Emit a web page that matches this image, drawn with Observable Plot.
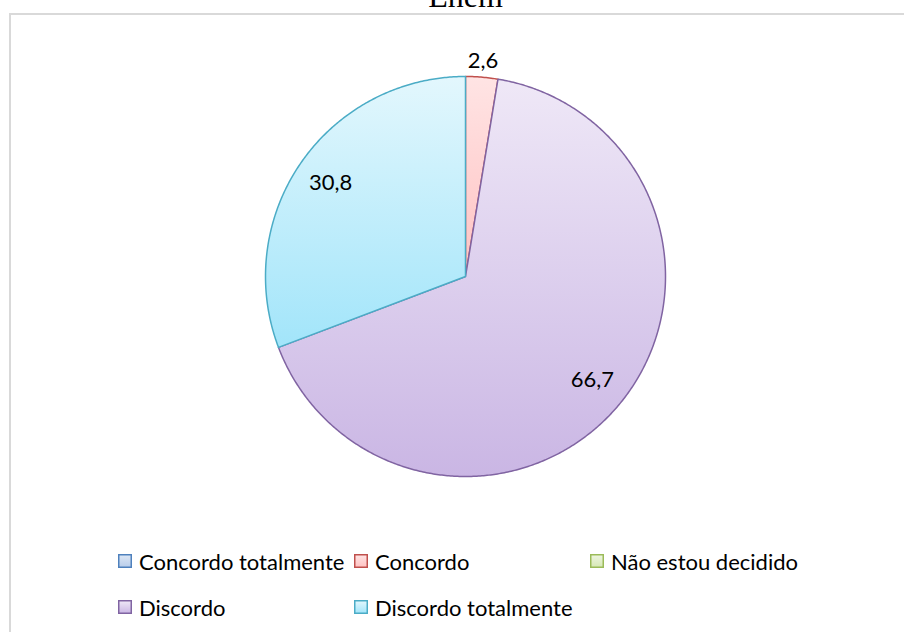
<!DOCTYPE html>
<html><head><meta charset="utf-8">
<script src="https://cdn.jsdelivr.net/npm/d3@7"></script>
<script src="https://cdn.jsdelivr.net/npm/@observablehq/plot@0.6"></script>
<style>
html,body{margin:0;padding:0;background:#fff;width:904px;height:632px;overflow:hidden;}
#wrap{position:relative;width:904px;height:632px;overflow:hidden;}
#frame{position:absolute;left:9px;top:13px;width:1000px;height:700px;border:2px solid #d9d9d9;box-sizing:border-box;}
#title{position:absolute;left:0;width:931px;text-align:center;top:-20px;font-family:"Liberation Serif","Times New Roman",serif;font-size:32px;line-height:32px;color:#000;}
#chart{position:absolute;left:0;top:0;}
#legend{position:absolute;left:118px;top:538px;}
.lg-swatch{width:236px;margin-right:0 !important;height:46px;}
.lg-swatch > svg{margin-right:7px !important;}
</style></head><body>
<div id="wrap">
  <div id="frame"></div>
  <div id="chart"></div>
  <div id="title">Enem</div>
  <div id="legend"></div>
</div>
<script>
const categories = ["Concordo totalmente", "Concordo", "Não estou decidido", "Discordo", "Discordo totalmente"];
const values = [0, 2.6, 0, 66.7, 30.8];
const strokeColors = ["#4f81bd", "#c0504d", "#9bbb59", "#8064a2", "#4bacc6"];
const fillTop = ["#dde7f5", "#ffe4e4", "#eef5e1", "#efe8f7", "#e3f7fd"];
const fillBottom = ["#b9cdea", "#ffc2c2", "#d6e8b5", "#cab6e4", "#a2e5fa"];

const data = categories.map((c, i) => ({category: c, value: values[i], i}));
const arcs = d3.pie().sort(null).value(d => d.value)(data);

const slicePts = [];
arcs.filter(a => a.data.value > 0).forEach(a => {
  const cat = a.data.category;
  slicePts.push({cat, x: 0, y: 0});
  const n = Math.max(2, Math.ceil((a.endAngle - a.startAngle) / (Math.PI / 360)) + 1);
  for (let k = 0; k < n; k++) {
    const t = a.startAngle + (a.endAngle - a.startAngle) * k / (n - 1);
    slicePts.push({cat, x: Math.sin(t), y: Math.cos(t)});
  }
  slicePts.push({cat, x: 0, y: 0});
});

const fmt = v => d3.format(".1f")(v).replace(".", ",");
const labels = arcs.filter(a => a.data.value > 0).map(a => {
  const mid = (a.startAngle + a.endAngle) / 2;
  const k = a.data.value < 5 ? 1.08 : 0.82;
  return {x: k * Math.sin(mid), y: k * Math.cos(mid), text: fmt(a.data.value)};
});

const chart = Plot.plot({
  width: 904, height: 520,
  marginLeft: 265, marginRight: 239, marginTop: 76, marginBottom: 44,
  x: {domain: [-1, 1], axis: null},
  y: {domain: [-1, 1], axis: null},
  color: {domain: categories, range: strokeColors},
  style: {background: "transparent", overflow: "visible"},
  marks: [
    Plot.line(slicePts, {x: "x", y: "y", z: "cat", stroke: "cat", fill: "#eeeeee", strokeWidth: 1.5}),
    Plot.text(labels, {x: "x", y: "y", text: "text", fontSize: 22, fill: "#000",
      fontFamily: "Lato, 'Open Sans', sans-serif"})
  ]
});

// gradient definitions inside the chart svg
const defs = d3.select(chart).insert("defs", ":first-child");
categories.forEach((c, i) => {
  const g = defs.append("linearGradient").attr("id", "g" + i)
    .attr("x1", 0).attr("y1", 0).attr("x2", 0).attr("y2", 1);
  g.append("stop").attr("offset", "0%").attr("stop-color", fillTop[i]);
  g.append("stop").attr("offset", "100%").attr("stop-color", fillBottom[i]);
});
// paint each slice path with its gradient
d3.select(chart).selectAll('g[aria-label="line"] path').each(function(d) {
  const stroke = this.getAttribute("stroke");
  const i = strokeColors.indexOf(stroke);
  if (i >= 0) this.setAttribute("fill", `url(#g${i})`);
});
document.getElementById("chart").appendChild(chart);

const leg = Plot.legend({
  color: {type: "ordinal", domain: categories, range: strokeColors},
  legend: "swatches", className: "lg", swatchSize: 14, width: 708,
  style: {fontFamily: "Lato, 'Open Sans', sans-serif", fontSize: "22px", color: "#000", marginBottom: "0"}
});
leg.querySelectorAll(".lg-swatch").forEach((sp, i) => {
  const svg = sp.querySelector("svg");
  svg.setAttribute("fill", `url(#g${i})`);
  const r = svg.querySelector("rect");
  r.setAttribute("x", 0.75); r.setAttribute("y", 0.75);
  r.setAttribute("width", 12.5); r.setAttribute("height", 12.5);
  r.setAttribute("stroke", strokeColors[i]); r.setAttribute("stroke-width", 1.5);
});
document.getElementById("legend").appendChild(leg);
</script>
</body></html>
